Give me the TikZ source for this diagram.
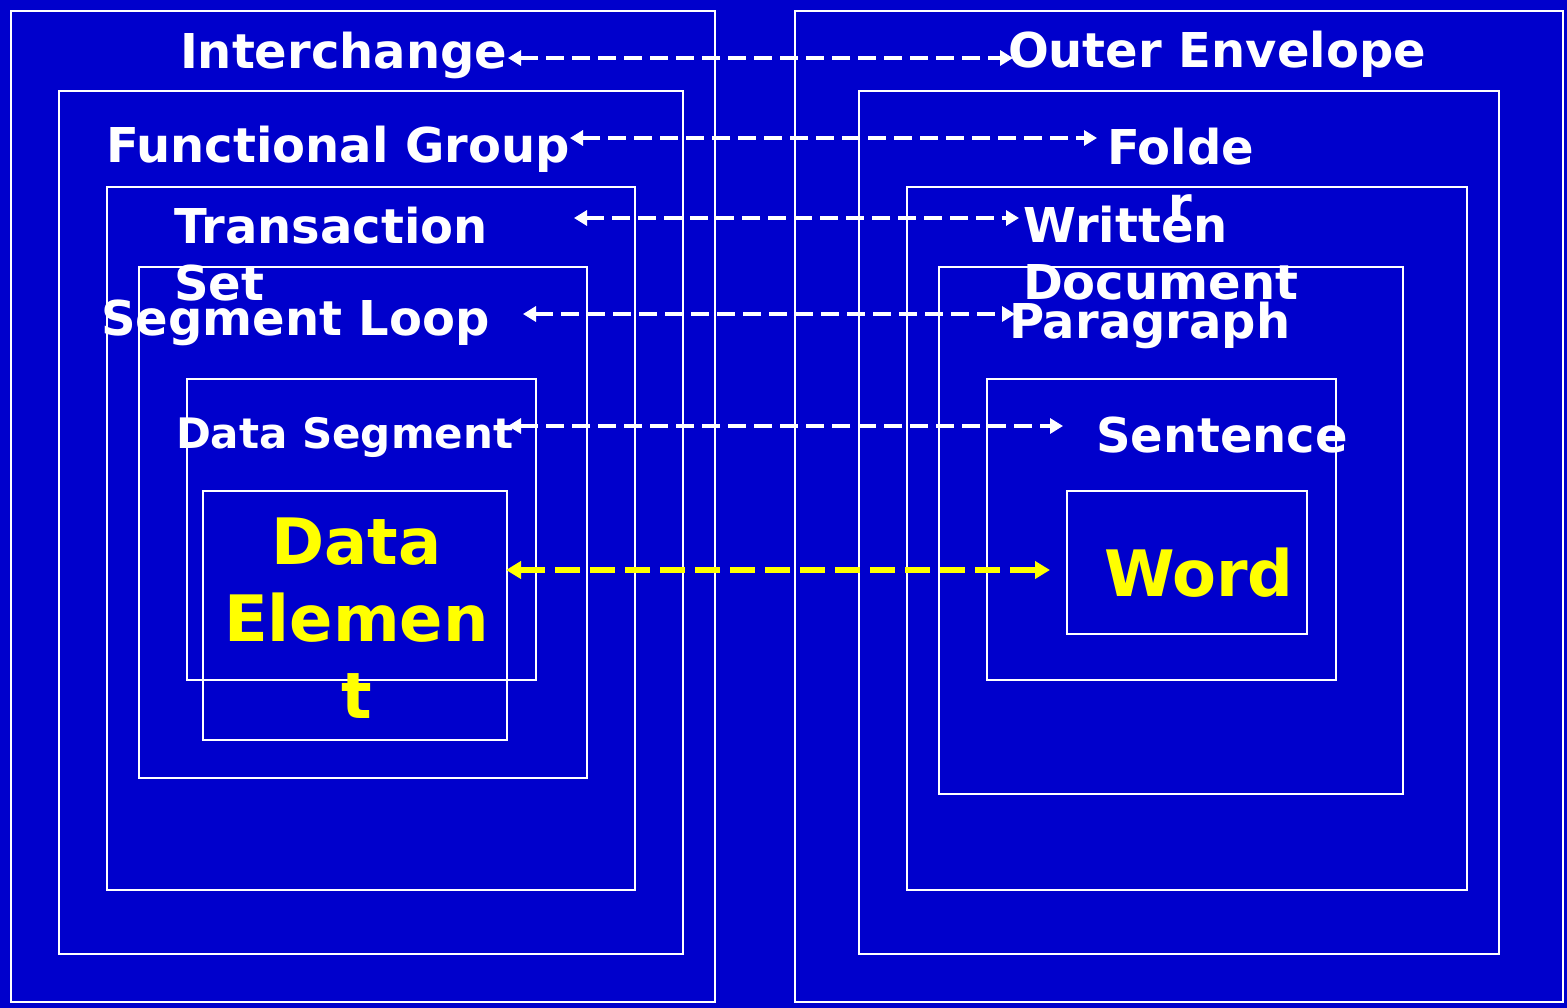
\documentclass[tikz,border=0pt]{standalone}
\usepackage{fontspec}
\setmainfont{DejaVu Sans}
\usetikzlibrary{arrows.meta}
\definecolor{bgblue}{RGB}{0,0,204}
\definecolor{hiyellow}{RGB}{255,255,0}
\begin{document}
\begin{tikzpicture}[x=1pt,y=-1pt,
  frame/.style={draw=white, line width=2pt},
  lbl/.style={text=white, font=\fontsize{48}{57.6}\selectfont\bfseries,
    anchor=base west, inner sep=0pt, outer sep=0pt},
  smalllbl/.style={lbl, font=\fontsize{42}{50.4}\selectfont\bfseries},
  biglbl/.style={lbl, text=hiyellow, font=\fontsize{64}{76.8}\selectfont\bfseries},
  link/.style={draw=white, line width=4pt, dash pattern=on 18pt off 8pt,
    {Triangle[length=13pt,width=15pt]}-{Triangle[length=13pt,width=15pt]}},
  keylink/.style={draw=hiyellow, line width=6pt, dash pattern=on 25pt off 10pt,
    {Triangle[length=15pt,width=17pt]}-{Triangle[length=15pt,width=17pt]}}
]
% background and page size
\fill[bgblue] (0,0) rectangle (1567,1008);
\useasboundingbox (0,0) rectangle (1567,1008);

% nested frames, EDI side
\draw[frame] (11,11) rectangle (715,1002);
\draw[frame] (59,91) rectangle (683,954);
\draw[frame] (107,187) rectangle (635,890);
\draw[frame] (139,267) rectangle (587,778);
\draw[frame] (187,379) rectangle (536,680);
\draw[frame] (203,491) rectangle (507,740);

% nested frames, paper side
\draw[frame] (795,11) rectangle (1563,1002);
\draw[frame] (859,91) rectangle (1499,954);
\draw[frame] (907,187) rectangle (1467,890);
\draw[frame] (939,267) rectangle (1403,794);
\draw[frame] (987,379) rectangle (1336,680);
\draw[frame] (1067,491) rectangle (1307,634);

% labels, EDI side (multi-line labels sit on their last baseline)
\node[lbl] (interchange) at (180,69) {Interchange};
\node[lbl] (fgroup) at (106,163) {Functional Group};
\node[lbl, align=left] (tset) at (174,301) {Transaction\\Set};
\node[lbl] (sloop) at (101,336) {Segment Loop};
\node[smalllbl] (dseg) at (176,448) {Data Segment};
\node[biglbl, align=center] (delem) at (224,718) {Data\\Elemen\\t};

% labels, paper side
\node[lbl] (envelope) at (1008,68) {Outer Envelope};
\node[lbl, align=center] (folder) at (1107,222) {Folde\\r};
\node[lbl, align=left] (wdoc) at (1023,300) {Written\\Document};
\node[lbl] (para) at (1009,339) {Paragraph};
\node[lbl] (sentence) at (1096,452) {Sentence};
\node[biglbl] (word) at (1104,596) {Word};

% connector end points
\coordinate (l1) at (508,58);   \coordinate (r1) at (1013,58);
\coordinate (l2) at (570,138);  \coordinate (r2) at (1097,138);
\coordinate (l3) at (574,218);  \coordinate (r3) at (1019,218);
\coordinate (l4) at (523,314);  \coordinate (r4) at (1015,314);
\coordinate (l5) at (508,426);  \coordinate (r5) at (1063,426);
\coordinate (l6) at (506,570);  \coordinate (r6) at (1050,570);

% correspondences
\draw[link] (l1) -- (r1);
\draw[link] (l2) -- (r2);
\draw[link] (l3) -- (r3);
\draw[link] (l4) -- (r4);
\draw[link] (l5) -- (r5);
\draw[keylink] (l6) -- (r6);
\end{tikzpicture}
\end{document}
